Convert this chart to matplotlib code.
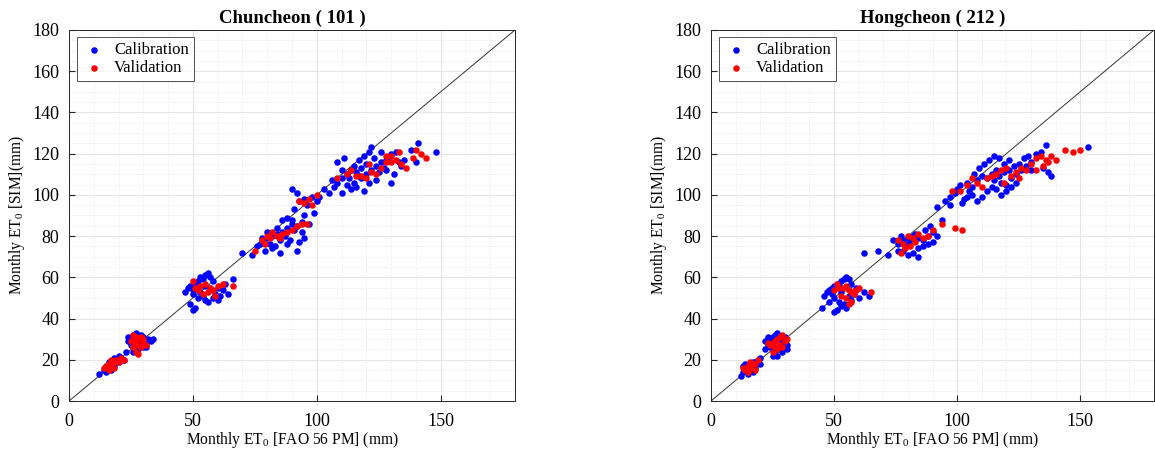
import numpy as np
import matplotlib.pyplot as plt
from matplotlib.ticker import MultipleLocator

plt.rcParams['font.family'] = ['Liberation Serif', 'DejaVu Serif']
plt.rcParams['mathtext.fontset'] = 'custom'
plt.rcParams['mathtext.rm'] = 'Liberation Serif'

# Chuncheon (101)
chun_cal = [
    (12,13),(14,15),(15,17),(16,16),(17,18),(18,17),(16,19),(19,20),(20,19),(21,21),(18,21),(22,20),(15,14),(17,15),(20,22),
    (25,30),(26,32),(27,33),(28,32),(24,29),(25,27),(27,26),(29,29),(30,31),(31,28),(32,30),(33,29),(34,30),(26,24),(28,25),
    (30,26),(23,24),(29,32),(26,28),(24,31),(31,26),
    (48,55),(49,56),(50,54),(51,57),(52,58),(53,60),(54,59),(55,61),(56,62),(57,60),(50,52),(52,50),(54,51),(55,49),(56,48),
    (58,50),(59,52),(60,55),(62,54),(64,52),(66,59),(50,44),(51,45),(49,47),(53,53),(57,55),(61,51),(47,53),(55,56),(58,58),
    (60,49),(63,57),
    (70,72),(74,71),(77,76),
    (76,75),(78,77),(80,79),(82,80),(84,81),(86,82),(88,84),(90,86),(79,73),(81,76),(83,75),(85,78),(87,80),(89,78),(91,83),
    (92,85),(94,87),(80,82),(84,84),(86,88),(88,89),(90,88),(93,77),(95,79),(82,74),(78,79),(92,73),(85,72),(88,76),(94,82),
    (90,103),(92,101),(93,97),(95,98),(96,95),(98,99),(100,97),(101,99),(103,103),(105,101),(91,93),(99,91),(97,86),(95,90),
    (106,107),(108,106),(110,108),(112,110),(114,112),(116,111),(118,113),(120,115),(108,116),(110,112),(112,105),(114,103),
    (116,104),(118,108),(120,110),(122,112),(124,114),(126,116),(128,117),(130,120),(110,101),(113,108),(115,114),(117,117),
    (119,119),(121,121),(123,118),(125,111),(127,113),(129,118),(131,110),(133,116),(135,117),(107,104),(111,118),(119,102),
    (124,107),(130,106),(126,121),(122,123),(115,106),(117,109),(121,106),(128,112),(132,121),(141,125),(148,121),(140,116),
    (134,114),(138,122),
]
chun_val = [
    (14,16),(15,17),(16,18),(17,17),(18,19),(19,20),(20,19),(16,15),(18,16),(21,21),(22,20),(17,20),
    (25,29),(26,30),(27,31),(28,30),(27,28),(28,27),(29,26),(30,28),(26,26),(29,31),(30,30),(31,27),(27,24),(28,23),(26,32),
    (51,55),(53,56),(55,57),(57,55),(58,54),(60,56),(56,53),(54,52),(52,54),(62,57),(66,56),(50,58),(59,51),
    (80,80),(82,82),(84,80),(86,81),(88,82),(90,83),(92,85),(94,86),(96,86),(78,78),(81,79),(75,73),(79,76),(85,79),
    (93,97),(95,96),(97,98),(100,100),(98,95),
    (108,108),(112,110),(114,112),(118,109),(120,108),(122,111),(124,110),(126,113),(128,116),(130,119),(132,117),(134,115),
    (128,119),(130,116),(136,113),(140,122),(142,120),(144,118),(139,118),(133,121),(116,109),(121,115),
]

# Hongcheon (212)
hong_cal = [
    (12,12),(13,14),(14,16),(15,17),(16,18),(17,19),(18,19),(19,20),(14,18),(16,15),(18,16),(15,13),(20,18),(13,17),(17,14),(20,21),
    (22,25),(23,27),(24,29),(25,31),(26,32),(27,33),(28,30),(29,29),(30,28),(31,27),(24,26),(26,24),(28,25),(30,31),(22,29),
    (25,22),(27,22),(29,24),(31,25),(23,31),
    (46,51),(47,53),(48,54),(49,55),(50,56),(51,57),(52,56),(53,58),(54,59),(55,60),(56,59),(50,50),(52,48),(53,46),(54,47),
    (55,45),(51,44),(56,51),(57,49),(58,52),(59,55),(48,48),(45,45),(50,43),(53,53),(57,57),(60,50),(62,53),(64,51),(49,52),
    (62,72),(68,73),(72,71),(74,78),
    (76,76),(78,78),(80,79),(82,80),(84,79),(86,78),(88,80),(90,82),(78,73),(80,71),(82,72),(84,74),(86,75),(88,76),(79,76),
    (81,77),(76,73),(84,70),(90,77),(92,80),(87,83),(89,85),(77,80),(83,81),
    (92,94),(95,97),(97,99),(99,101),(100,103),(102,96),(104,99),(94,88),(97,95),(101,105),(103,98),
    (104,106),(106,104),(108,107),(110,109),(112,108),(114,110),(116,112),(118,106),(120,105),(122,108),(124,110),(126,112),
    (128,114),(130,116),(132,120),(134,121),(106,100),(108,97),(110,99),(112,102),(114,104),(116,103),(118,100),(120,102),
    (122,104),(124,106),(109,113),(111,115),(113,117),(115,119),(117,118),(119,115),(121,117),(123,114),(125,115),(127,118),
    (129,119),(135,113),(138,109),(137,111),(130,112),(136,124),(153,123),(115,107),(117,109),(119,111),(121,112),(107,110),
    (105,102),
]
hong_val = [
    (14,15),(15,17),(16,16),(17,18),(18,18),(19,20),(15,14),(16,19),(13,16),(18,15),
    (24,27),(25,28),(26,29),(27,30),(28,31),(29,32),(26,26),(27,25),(28,27),(30,29),(23,28),(25,24),(29,26),(31,30),
    (50,54),(52,55),(54,55),(55,56),(56,54),(57,53),(58,52),(59,54),(53,51),(55,50),(57,48),(60,55),(65,53),(51,57),(56,47),
    (76,78),(78,76),(80,80),(82,79),(84,81),(86,79),(88,80),(81,75),(83,77),(79,74),(77,72),(90,83),(99,84),(102,83),(94,86),
    (98,102),(101,102),(104,105),
    (108,106),(112,108),(116,110),(118,112),(120,113),(122,109),(124,111),(126,113),(128,112),(130,115),(132,118),(134,119),
    (136,117),(132,112),(135,114),(138,119),(140,117),(144,122),(147,121),(150,122),(137,116),(114,109),(110,104),(119,106),
    (106,108),(125,108),
]

titles = ['Chuncheon ( 101 )', 'Hongcheon ( 212 )']
panels = [(chun_cal, chun_val), (hong_cal, hong_val)]

fig = plt.figure(figsize=(11.55, 4.54), dpi=100)
boxes = [[69/1155, 53/454, 446/1155, 371/454], [711/1155, 53/454, 443/1155, 371/454]]

for box, title, (cal, val) in zip(boxes, titles, panels):
    ax = fig.add_axes(box)
    cal = np.array(cal)
    val = np.array(val)
    ax.plot([0, 180], [0, 180], color='#333333', lw=0.7, zorder=1)
    ax.scatter(cal[:, 0], cal[:, 1], s=22, color='#0000ff', lw=0, label='Calibration', zorder=3)
    ax.scatter(val[:, 0], val[:, 1], s=22, color='#ff0000', lw=0, label='Validation', zorder=4)
    ax.set_xlim(0, 180)
    ax.set_ylim(0, 180)
    ax.xaxis.set_major_locator(MultipleLocator(50))
    ax.xaxis.set_minor_locator(MultipleLocator(10))
    ax.yaxis.set_major_locator(MultipleLocator(20))
    ax.yaxis.set_minor_locator(MultipleLocator(5))
    ax.grid(which='major', color='#e6e6e6', lw=0.8)
    ax.grid(which='minor', color='#e8e8e8', lw=0.7, ls=':')
    ax.set_axisbelow(True)
    ax.tick_params(which='both', direction='in', labelsize=13, colors='#262626', top=False, right=False)
    ax.tick_params(which='minor', length=0)
    ax.tick_params(which='major', length=4, labelcolor='black')
    ax.tick_params(axis='x', which='major', pad=9)
    ax.tick_params(axis='y', which='major', pad=7)
    for s in ax.spines.values():
        s.set_color('#262626')
        s.set_linewidth(0.7)
    ax.set_title(title, fontsize=13.5, fontweight='bold', pad=5)
    ax.set_xlabel('Monthly ET$_0$ [FAO 56 PM] (mm)', fontsize=11.2, labelpad=0)
    ax.set_ylabel('Monthly ET$_0$ [SIM](mm)', fontsize=11.2, labelpad=4)
    leg = ax.legend(loc='upper left', fontsize=12, frameon=True, fancybox=False,
                    edgecolor='#262626', handletextpad=0.5, handlelength=1.4,
                    borderpad=0.3, labelspacing=0.1, scatterpoints=1,
                    bbox_to_anchor=(0.0, 1.003))
    leg.get_frame().set_linewidth(0.7)

fig.savefig('out.png', dpi=100)
